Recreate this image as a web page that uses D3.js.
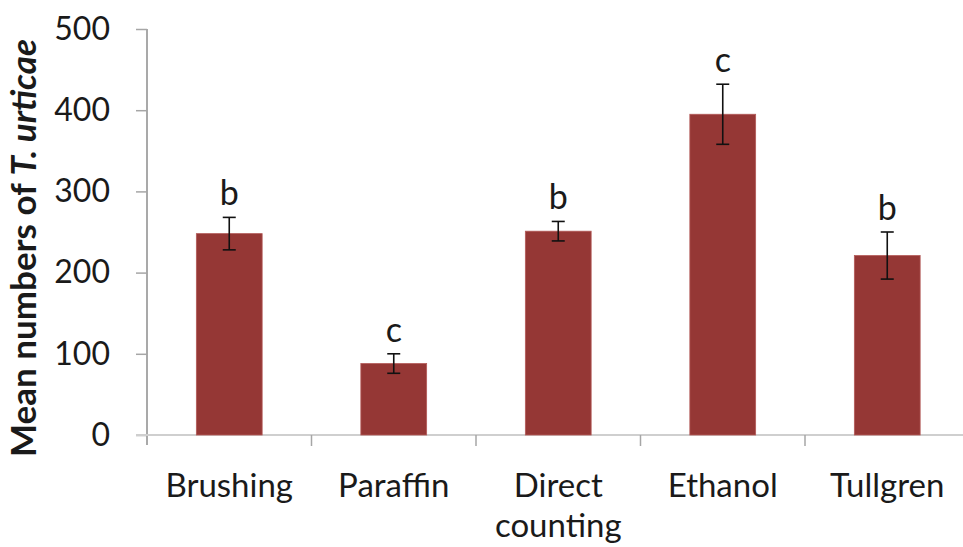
<!DOCTYPE html>
<html>
<head>
<meta charset="utf-8">
<script src="https://cdn.jsdelivr.net/npm/d3@7/dist/d3.min.js"></script>
<style>
  html, body { margin: 0; padding: 0; background: #fff; }
  svg { display: block; }
  text { font-family: Lato, "Open Sans", sans-serif; fill: #1a1a1a; }
</style>
</head>
<body>
<svg id="chart" width="963" height="547"></svg>
<script>
// ---- data ----
const categories = ["Brushing", "Paraffin", "Direct counting", "Ethanol", "Tullgren"];
const means      = [248, 88, 251, 395, 221];
const errors     = [20, 12, 12, 37, 29];
const letters    = ["b", "c", "b", "c", "b"];
const yTicks     = [0, 100, 200, 300, 400, 500];

// ---- layout ----
const W = 963, H = 547;
const mLeft = 147, mRight = 969.5, mTop = 29, mBottom = 435;
const svg = d3.select("#chart");

const y = d3.scaleLinear().domain([0, 500]).range([mBottom, mTop]);
const xCat = d3.scaleBand().domain(categories).range([mLeft, mRight]).padding(0);
const xBar = d3.scaleBand().domain(categories).range([mLeft, mRight])
  .paddingInner(0.6).paddingOuter(0.3);

// y axis
const yAxis = svg.append("g").attr("transform", `translate(${mLeft},0)`)
  .call(d3.axisLeft(y).tickValues(yTicks).tickSize(11).tickPadding(26).tickFormat(d3.format("d")));
yAxis.select(".domain").attr("stroke", "#8c8c8c").attr("stroke-width", 1.5)
  .attr("d", `M0,${mTop}V${mBottom + 10}`);
yAxis.selectAll(".tick line").attr("stroke", "#a6a6a6").attr("stroke-width", 1.5);
yAxis.selectAll(".tick text").style("font-size", "32px").attr("fill", "#1a1a1a")
  .style("font-family", "Lato, 'Open Sans', sans-serif");

// x axis line
svg.append("line").attr("x1", mLeft - 11).attr("x2", W)
  .attr("y1", y(0)).attr("y2", y(0))
  .attr("stroke", "#cfcfcf").attr("stroke-width", 2);

// category boundary ticks
svg.append("g").selectAll("line").data(categories.slice(1)).join("line")
  .attr("x1", d => xCat(d)).attr("x2", d => xCat(d))
  .attr("y1", y(0)).attr("y2", y(0) + 11)
  .attr("stroke", "#a6a6a6").attr("stroke-width", 1.5);

// bars
svg.append("g").selectAll("rect").data(categories).join("rect")
  .attr("x", d => xBar(d))
  .attr("width", xBar.bandwidth())
  .attr("y", (d, i) => y(means[i]))
  .attr("height", (d, i) => y(0) - y(means[i]))
  .attr("fill", "#953735")
  .attr("stroke", "#b35a58").attr("stroke-width", 0.8);

// error bars
const eb = svg.append("g").attr("stroke", "#111").attr("stroke-width", 1.6);
categories.forEach((c, i) => {
  const cx = xBar(c) + xBar.bandwidth() / 2;
  const y1 = y(means[i] + errors[i]), y2 = y(means[i] - errors[i]);
  eb.append("line").attr("x1", cx).attr("x2", cx).attr("y1", y1).attr("y2", y2);
  eb.append("line").attr("x1", cx - 6.5).attr("x2", cx + 6.5).attr("y1", y1).attr("y2", y1);
  eb.append("line").attr("x1", cx - 6.5).attr("x2", cx + 6.5).attr("y1", y2).attr("y2", y2);
});

// letters
svg.append("g").selectAll("text").data(categories).join("text")
  .attr("x", d => xBar(d) + xBar.bandwidth() / 2)
  .attr("y", (d, i) => y(means[i] + errors[i]) - 12)
  .attr("text-anchor", "middle")
  .style("font-size", "34px")
  .text((d, i) => letters[i]);

// x labels
const xl = svg.append("g").selectAll("text").data(categories).join("text")
  .attr("x", d => xCat(d) + xCat.bandwidth() / 2)
  .attr("y", 497)
  .attr("text-anchor", "middle")
  .style("font-size", "33px");
xl.each(function(d) {
  const words = d === "Direct counting" ? ["Direct", "counting"] : [d];
  const t = d3.select(this);
  words.forEach((w, k) => {
    t.append("tspan").attr("x", t.attr("x")).attr("dy", k === 0 ? 0 : 40).text(w);
  });
});

// y title
const yt = svg.append("text")
  .attr("transform", `translate(36,248) rotate(-90)`)
  .attr("text-anchor", "middle")
  .style("font-size", "35px").style("font-weight", "bold");
yt.append("tspan").text("Mean numbers of ");
yt.append("tspan").style("font-style", "italic").text("T. urticae");
</script>
</body>
</html>
